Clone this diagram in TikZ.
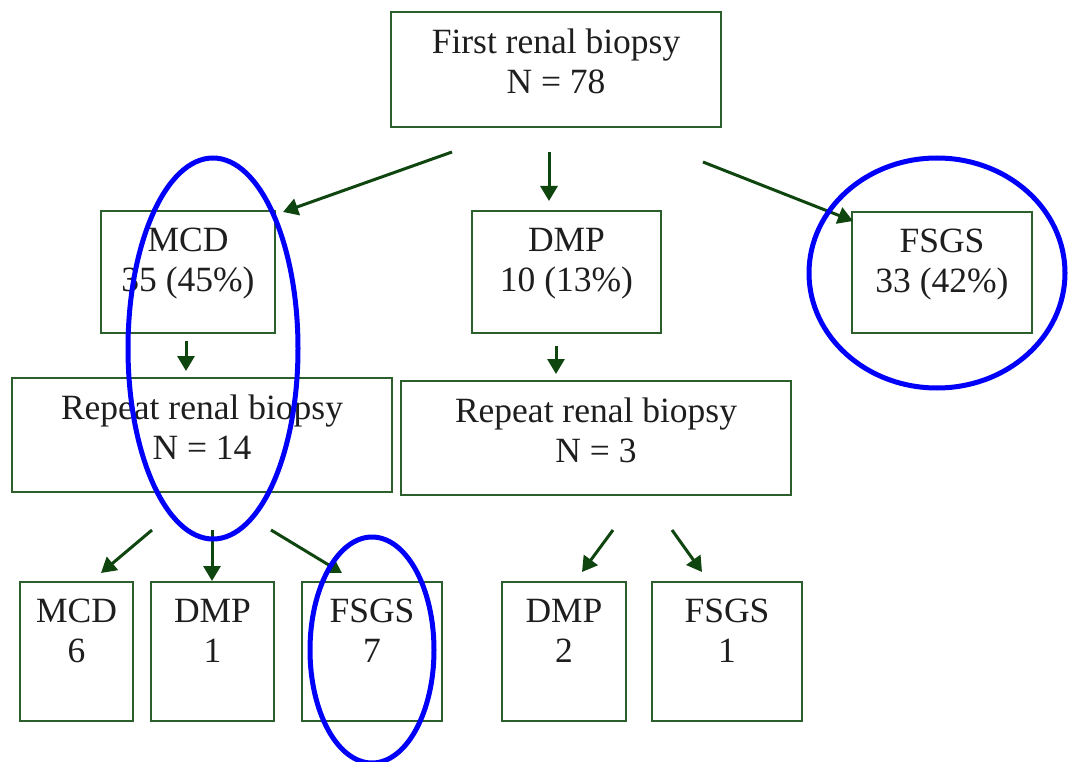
\documentclass[tikz,border=0pt]{standalone}
\usepackage{fontspec}
\setmainfont{Liberation Serif}
\usetikzlibrary{arrows.meta}
\definecolor{boxgreen}{RGB}{45,95,45}
\definecolor{arrgreen}{RGB}{15,70,15}
\definecolor{ringblue}{RGB}{0,0,250}
\definecolor{inkgray}{RGB}{30,30,30}
\begin{document}
\begin{tikzpicture}[x=1pt,y=-1pt,
  box/.style={draw=boxgreen,line width=2.5pt,fill=white,inner sep=0pt},
  txt/.style={anchor=north,yshift=-18pt,inner sep=0pt,align=center,text=inkgray,
    font=\fontsize{35.5}{40}\selectfont},
  arr/.style={draw=arrgreen,line width=3pt,-{Triangle[length=15pt,width=17pt]}},
  ring/.style={draw=ringblue,line width=5pt}]
\fill[white] (0,0) rectangle (1068,762);
\useasboundingbox (0,0) rectangle (1068,762);
% boxes
\node[box,minimum width=330pt,minimum height=115pt,label={[txt]north:{First renal biopsy\\N = 78}}] (top) at (556,69.5) {};
\node[box,minimum width=174pt,minimum height=122pt,label={[txt]north:{MCD\\35 (45\%)}}] (mcd) at (188,272) {};
\node[box,minimum width=189pt,minimum height=122pt,label={[txt]north:{DMP\\10 (13\%)}}] (dmp) at (566.5,272) {};
\node[box,minimum width=180pt,minimum height=121pt,label={[txt]north:{FSGS\\33 (42\%)}}] (fsgs) at (942,272.5) {};
\node[box,minimum width=380pt,minimum height=114pt,label={[txt]north:{Repeat renal biopsy\\N = 14}}] (rep1) at (202,435) {};
\node[box,minimum width=390pt,minimum height=114pt,label={[txt]north:{Repeat renal biopsy\\N = 3}}] (rep2) at (596,438) {};
\node[box,minimum width=113pt,minimum height=139pt,label={[txt]north:{MCD\\6}}] (b1) at (76.5,651.5) {};
\node[box,minimum width=123pt,minimum height=139pt,label={[txt]north:{DMP\\1}}] (b2) at (212.5,651.5) {};
\node[box,minimum width=140pt,minimum height=139pt,label={[txt]north:{FSGS\\7}}] (b3) at (372,651.5) {};
\node[box,minimum width=124pt,minimum height=139pt,label={[txt]north:{DMP\\2}}] (b4) at (564,651.5) {};
\node[box,minimum width=150pt,minimum height=139pt,label={[txt]north:{FSGS\\1}}] (b5) at (727,651.5) {};
% arrow end points
\coordinate (t1) at (452,152); \coordinate (e1) at (283,212);
\coordinate (t2) at (549,152); \coordinate (e2) at (549,201);
\coordinate (t3) at (703,162); \coordinate (e3) at (853,221);
\coordinate (t4) at (186,341); \coordinate (e4) at (186,371);
\coordinate (t5) at (556,346); \coordinate (e5) at (556,374);
\coordinate (t6) at (152,530); \coordinate (e6) at (101,573);
\coordinate (t7) at (212,530); \coordinate (e7) at (212,581);
\coordinate (t8) at (271,530); \coordinate (e8) at (342,573);
\coordinate (t9) at (613,530); \coordinate (e9) at (582,572);
\coordinate (t10) at (672,530); \coordinate (e10) at (702,572);
\draw[arr] (t1) -- (e1);
\draw[arr] (t2) -- (e2);
\draw[arr] (t3) -- (e3);
\draw[arr] (t4) -- (e4);
\draw[arr] (t5) -- (e5);
\draw[arr] (t6) -- (e6);
\draw[arr] (t7) -- (e7);
\draw[arr] (t8) -- (e8);
\draw[arr] (t9) -- (e9);
\draw[arr] (t10) -- (e10);
% blue rings
\draw[ring] (213,348.5) ellipse [x radius=85, y radius=190.5];
\draw[ring] (937,273) ellipse [x radius=128, y radius=115];
\draw[ring] (372,650) ellipse [x radius=62, y radius=113];
\end{tikzpicture}
\end{document}
